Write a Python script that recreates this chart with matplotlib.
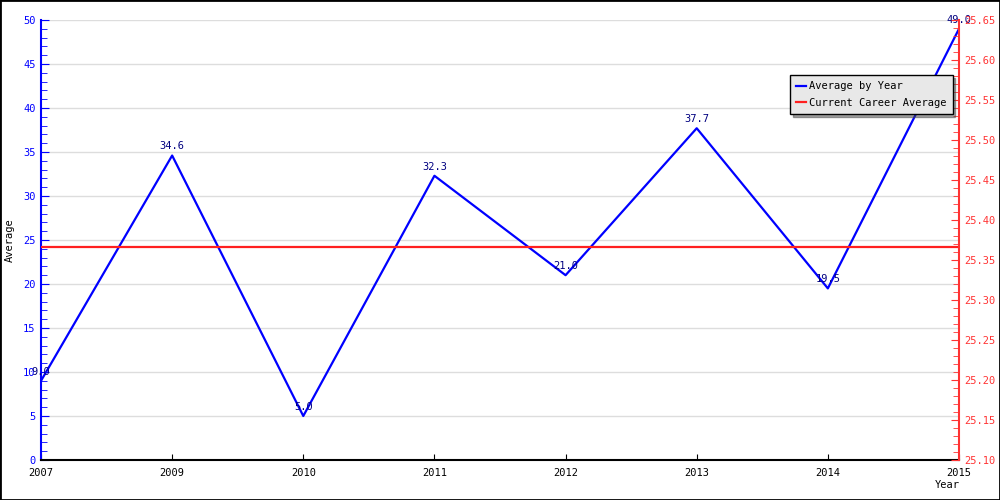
import matplotlib
matplotlib.use("Agg")
import matplotlib.pyplot as plt
from matplotlib.patches import Rectangle
from matplotlib.ticker import MultipleLocator, FormatStrFormatter

years = ["2007", "2009", "2010", "2011", "2012", "2013", "2014", "2015"]
averages = [9.0, 34.6, 5.0, 32.3, 21.0, 37.7, 19.5, 49.0]
career_average = 25.366

plt.rcParams['font.family'] = ['DejaVu Sans Mono']
fs = 7.5

fig = plt.figure(figsize=(10, 5), dpi=100)
fig.patches.append(Rectangle((0, 0), 1, 1, transform=fig.transFigure, fill=False,
                             edgecolor='black', linewidth=2))
ax = fig.add_axes([0.041, 0.08, 0.918, 0.88])
x = list(range(len(years)))

ax.set_xlim(0, len(years) - 1)
ax.set_ylim(0, 50)
ax.yaxis.set_major_locator(MultipleLocator(5))
ax.yaxis.set_minor_locator(MultipleLocator(1))
ax.grid(axis='y', which='major', color='#dddddd', linewidth=1)
ax.set_axisbelow(True)

ln1, = ax.plot(x, averages, color='blue', linewidth=1.6, label='Average by Year', zorder=3)
for xi, v in zip(x, averages):
    ax.annotate(f"{v:.1f}", (xi, v), xytext=(0, 3), textcoords='offset points',
                ha='center', va='bottom', fontsize=fs, color='#000080', zorder=4)

ax.set_xticks(x)
ax.set_xticklabels(years, fontsize=fs)
ax.tick_params(axis='x', direction='in', length=4, colors='black', pad=6)
ax.tick_params(axis='y', which='major', direction='in', length=6, colors='blue', labelsize=fs, pad=4)
ax.tick_params(axis='y', which='minor', direction='in', length=4, colors='blue')
ax.spines['left'].set_color('blue')
ax.spines['left'].set_linewidth(1.5)
ax.spines['bottom'].set_color('black')
ax.spines['bottom'].set_linewidth(1.5)
ax.spines['top'].set_visible(False)
ax.spines['right'].set_visible(False)

ax2 = ax.twinx()
ax2.set_ylim(25.10, 25.65)
ax2.yaxis.set_major_locator(MultipleLocator(0.05))
ax2.yaxis.set_minor_locator(MultipleLocator(0.01))
ax2.yaxis.set_major_formatter(FormatStrFormatter('%.2f'))
ln2 = ax2.axhline(career_average, color='#ff2020', linewidth=1.6, label='Current Career Average')
ax2.tick_params(axis='y', which='major', direction='in', length=6, colors='#ff3333', labelsize=fs, pad=4)
ax2.tick_params(axis='y', which='minor', direction='in', length=4, colors='#ff3333')
ax2.spines['right'].set_color('#ff3333')
ax2.spines['right'].set_linewidth(1.5)
for s in ['top', 'left', 'bottom']:
    ax2.spines[s].set_visible(False)

fig.text(0.010, 0.52, "Average", rotation=90, fontsize=fs, ha='center', va='center')
fig.text(0.947, 0.03, "Year", fontsize=fs, ha='center', va='center')

leg = ax2.legend([ln1, ln2], ['Average by Year', 'Current Career Average'],
                 loc='upper left', bbox_to_anchor=(0.816, 0.875), fontsize=fs,
                 frameon=True, fancybox=False, shadow=True, handlelength=0.9,
                 handletextpad=0.3, borderpad=0.6, labelspacing=0.6, borderaxespad=0)
leg.get_frame().set_facecolor('#e8e8e8')
leg.get_frame().set_edgecolor('black')
leg.get_frame().set_alpha(1)

fig.savefig("out.png", dpi=100)
